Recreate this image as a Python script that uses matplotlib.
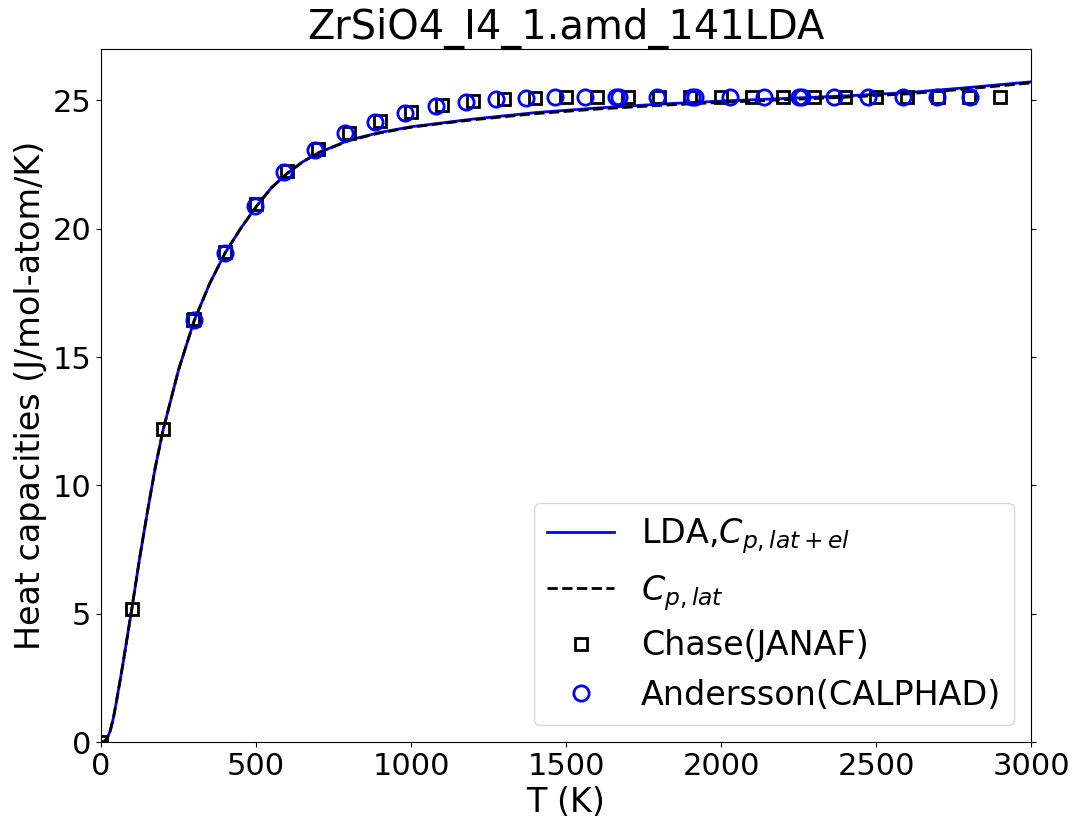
import numpy as np
import matplotlib
matplotlib.use("Agg")
from matplotlib import pyplot as plt

# calculated heat capacity curve
T_calc = [0, 10, 20, 30, 40, 50, 60, 70, 80, 90, 100, 125, 150, 175, 200, 250,
          300, 350, 400, 450, 500, 550, 600, 650, 700, 800, 900, 1000, 1100,
          1200, 1400, 1600, 1800, 2000, 2200, 2400, 2600, 2800, 3000]
Cp_lat_el = [0, 0.02, 0.15, 0.45, 0.95, 1.6, 2.3, 3.0, 3.75, 4.5, 5.25, 7.2,
             9.0, 10.7, 12.15, 14.5, 16.4, 17.85, 19.05, 20.0, 20.85, 21.6,
             22.15, 22.6, 22.95, 23.45, 23.75, 23.97, 24.12, 24.27, 24.52,
             24.7, 24.85, 24.97, 25.07, 25.17, 25.3, 25.5, 25.72]
Cp_lat = [0, 0.02, 0.15, 0.45, 0.95, 1.6, 2.3, 3.0, 3.75, 4.5, 5.25, 7.2,
          9.0, 10.7, 12.15, 14.5, 16.4, 17.85, 19.05, 20.0, 20.85, 21.6,
          22.15, 22.6, 22.95, 23.43, 23.73, 23.95, 24.1, 24.24, 24.48,
          24.66, 24.8, 24.92, 25.02, 25.12, 25.25, 25.45, 25.68]

# Chase (JANAF)
T_chase = [0, 100, 200, 298.15, 300, 400, 500, 600, 700, 800, 900, 1000, 1100,
           1200, 1300, 1400, 1500, 1600, 1700, 1800, 1900, 2000, 2100, 2200,
           2300, 2400, 2500, 2600, 2700, 2800, 2900]
Cp_chase = [0, 5.17, 12.2, 16.45, 16.5, 19.08, 20.98, 22.23, 23.1, 23.72,
            24.2, 24.55, 24.8, 24.97, 25.05, 25.1, 25.12, 25.12, 25.12, 25.12,
            25.12, 25.12, 25.12, 25.12, 25.12, 25.12, 25.12, 25.12, 25.12,
            25.12, 25.12]

# Andersson (CALPHAD)
T_and = [300, 400, 497, 590, 690, 787, 884, 981, 1080, 1177, 1274, 1370,
         1465, 1561, 1660, 1672, 1793, 1905, 1915, 2029, 2138, 2250, 2260,
         2365, 2474, 2587, 2697, 2803]
Cp_and = [16.45, 19.05, 20.9, 22.2, 23.05, 23.72, 24.17, 24.5, 24.78, 24.93,
          25.04, 25.1, 25.14, 25.14, 25.14, 25.14, 25.14, 25.14, 25.14, 25.14,
          25.14, 25.14, 25.14, 25.14, 25.14, 25.14, 25.14, 25.14]

fig = plt.figure(figsize=(10.83, 8.33), dpi=100)
ax = fig.add_axes([0.0933, 0.1092, 0.8587, 0.832])

ax.plot(T_calc, Cp_lat_el, '-', color='blue', lw=2, label=r'LDA,$C_{p,lat+el}$')
ax.plot(T_calc, Cp_lat, '--', color='black', lw=2, label=r'$C_{p,lat}$')
ax.plot(T_chase, Cp_chase, 's', mfc='none', mec='black', ms=9, mew=2,
        label='Chase(JANAF)')
ax.plot(T_and, Cp_and, 'o', mfc='none', mec='blue', ms=11, mew=2,
        label='Andersson(CALPHAD)')

ax.set_xlim(0, 3000)
ax.set_ylim(0, 27)
ax.set_xticks([0, 500, 1000, 1500, 2000, 2500, 3000])
ax.set_yticks([0, 5, 10, 15, 20, 25])
ax.tick_params(labelsize=22, right=True)
ax.set_xlabel('T (K)', fontsize=24)
ax.set_ylabel('Heat capacities (J/mol-atom/K)', fontsize=24)
ax.set_title('ZrSiO4_I4_1.amd_141LDA', fontsize=28.8)
ax.legend(loc='lower right', fontsize=24)

fig.savefig('out.png', dpi=100)
